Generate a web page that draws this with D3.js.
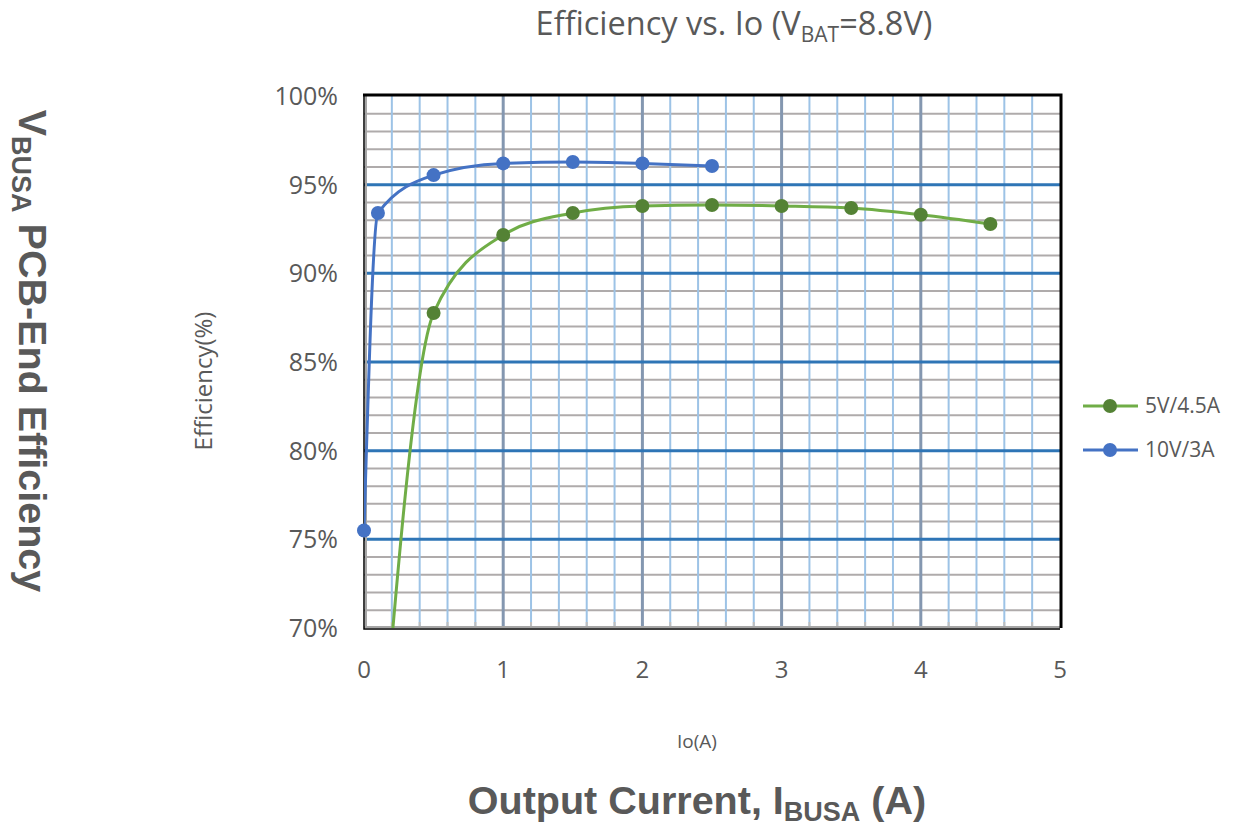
<!DOCTYPE html>
<html>
<head>
<meta charset="utf-8">
<script src="https://cdn.jsdelivr.net/npm/d3@7"></script>
<style>
  body { margin: 0; background: #fff; }
  text { fill: #595959; }
</style>
</head>
<body>
<svg id="chart" width="1252" height="827"></svg>
<script>
// data
const seriesNames = ["5V/4.5A", "10V/3A"]
const greenIo  = [0.1, 0.5, 1, 1.5, 2, 2.5, 3, 3.5, 4, 4.5]
const greenEff = [60, 87.76, 92.16, 93.4, 93.8, 93.85, 93.8, 93.68, 93.3, 92.78]
const blueIo   = [0, 0.1, 0.5, 1, 1.5, 2, 2.5]
const blueEff  = [75.5, 93.4, 95.54, 96.2, 96.28, 96.2, 96.05]
const xTicks = [0, 1, 2, 3, 4, 5]
const yTicks = [70, 75, 80, 85, 90, 95, 100]

const svg = d3.select("#chart")

const x = d3.scaleLinear().domain([0, 5]).range([364, 1060])
const y = d3.scaleLinear().domain([70, 100]).range([628, 96])

const greenData = greenIo.map((d, i) => ({ x: d, y: greenEff[i] }))
const blueData = blueIo.map((d, i) => ({ x: d, y: blueEff[i] }))

svg.append("defs").append("clipPath").attr("id", "plotClip")
  .append("rect")
  .attr("x", x(0)).attr("y", y(100))
  .attr("width", x(5) - x(0)).attr("height", y(70) - y(100))

const grid = svg.append("g")

// horizontal minor lines every 1%
grid.selectAll("line.hmin")
  .data(d3.range(71, 100).filter(v => v % 5 != 0))
  .enter().append("line")
  .attr("x1", x(0)).attr("x2", x(5))
  .attr("y1", d => y(d)).attr("y2", d => y(d))
  .attr("stroke", "#AFABAB").attr("stroke-width", 2)

// vertical minor lines every 0.2
grid.selectAll("line.vmin")
  .data(d3.range(1, 25).filter(i => i % 5 != 0).map(i => i * 0.2))
  .enter().append("line")
  .attr("x1", d => x(d)).attr("x2", d => x(d))
  .attr("y1", y(100)).attr("y2", y(70))
  .attr("stroke", "#9DC3E6").attr("stroke-width", 2)

// minor tick stubs at bottom
grid.selectAll("line.tick")
  .data(d3.range(1, 25).map(i => i * 0.2))
  .enter().append("line")
  .attr("x1", d => x(d)).attr("x2", d => x(d))
  .attr("y1", y(70) - 6).attr("y2", y(70))
  .attr("stroke", "#BFBFBF").attr("stroke-width", 2)

// vertical major lines
grid.selectAll("line.vmaj")
  .data([1, 2, 3, 4])
  .enter().append("line")
  .attr("x1", d => x(d)).attr("x2", d => x(d))
  .attr("y1", y(100)).attr("y2", y(70))
  .attr("stroke", "#8497B0").attr("stroke-width", 3)

// horizontal major lines
grid.selectAll("line.hmaj")
  .data([75, 80, 85, 90, 95])
  .enter().append("line")
  .attr("x1", x(0)).attr("x2", x(5))
  .attr("y1", d => y(d)).attr("y2", d => y(d))
  .attr("stroke", "#2E75B6").attr("stroke-width", 3)

// inner gray axis lines
grid.append("line")
  .attr("x1", x(0) + 2).attr("x2", x(0) + 2).attr("y1", y(100)).attr("y2", y(70))
  .attr("stroke", "#A6A6A6").attr("stroke-width", 2)
grid.append("line")
  .attr("x1", x(0)).attr("x2", x(5)).attr("y1", y(70) - 1).attr("y2", y(70) - 1)
  .attr("stroke", "#A6A6A6").attr("stroke-width", 2)

// frame
grid.append("path")
  .attr("d", `M${x(0)},${y(100)}V${y(70) + 1}H${x(5)}`)
  .attr("fill", "none").attr("stroke", "#000").attr("stroke-width", 1.5)
grid.append("path")
  .attr("d", `M${x(0) - 1},${y(100) - 1}H${x(5) + 1}V${y(70)}`)
  .attr("fill", "none").attr("stroke", "#000").attr("stroke-width", 3)

// series
const line = d3.line()
  .x(d => x(d.x)).y(d => y(d.y))
  .curve(d3.curveMonotoneX)

const plot = svg.append("g").attr("clip-path", "url(#plotClip)")

plot.append("path").datum(greenData)
  .attr("d", line).attr("fill", "none")
  .attr("stroke", "#70AD47").attr("stroke-width", 3)
plot.append("path").datum(blueData)
  .attr("d", line).attr("fill", "none")
  .attr("stroke", "#4472C4").attr("stroke-width", 3)

svg.selectAll("circle.green")
  .data(greenData.filter(d => d.y >= 70))
  .enter().append("circle")
  .attr("cx", d => x(d.x)).attr("cy", d => y(d.y)).attr("r", 7)
  .attr("fill", "#548235")
svg.selectAll("circle.blue")
  .data(blueData)
  .enter().append("circle")
  .attr("cx", d => x(d.x)).attr("cy", d => y(d.y)).attr("r", 7)
  .attr("fill", "#4472C4")

// tick labels
svg.selectAll("text.ytick")
  .data(yTicks)
  .enter().append("text")
  .attr("x", 338).attr("y", d => y(d) + 9)
  .attr("text-anchor", "end")
  .style("font", "25px 'Open Sans', sans-serif")
  .text(d => d + "%")

svg.selectAll("text.xtick")
  .data(xTicks)
  .enter().append("text")
  .attr("x", d => x(d)).attr("y", 678)
  .attr("text-anchor", "middle")
  .style("font", "24px 'Open Sans', sans-serif")
  .text(d => d)

// title
const title = svg.append("text")
  .attr("x", 734).attr("y", 35)
  .attr("text-anchor", "middle")
  .style("font", "32.5px 'Open Sans', sans-serif")
title.append("tspan").text("Efficiency vs. Io (V")
title.append("tspan").attr("dy", 7).style("font-size", "21px").text("BAT")
title.append("tspan").attr("dy", -7).text("=8.8V)")

// small axis titles
svg.append("text")
  .attr("transform", "translate(212,381) rotate(-90)")
  .attr("text-anchor", "middle")
  .style("font", "24px 'Open Sans', sans-serif")
  .text("Efficiency(%)")
svg.append("text")
  .attr("x", 697).attr("y", 748)
  .attr("text-anchor", "middle")
  .style("font", "19px 'Open Sans', sans-serif")
  .text("Io(A)")

// big bold axis labels
const bigY = svg.append("text")
  .attr("transform", "translate(19,351) rotate(90)")
  .attr("text-anchor", "middle")
  .style("font", "bold 39.5px 'Liberation Sans', Arial, sans-serif")
bigY.append("tspan").text("V")
bigY.append("tspan").attr("dy", 7).style("font-size", "27px").text("BUSA")
bigY.append("tspan").attr("dy", -7).text(" PCB-End Efficiency")

const bigX = svg.append("text")
  .attr("x", 697).attr("y", 814)
  .attr("text-anchor", "middle")
  .style("font", "bold 39.5px 'Liberation Sans', Arial, sans-serif")
bigX.append("tspan").text("Output Current, I")
bigX.append("tspan").attr("dy", 7).style("font-size", "27px").text("BUSA")
bigX.append("tspan").attr("dy", -7).text(" (A)")

// legend
const legendColors = [["#70AD47", "#548235"], ["#4472C4", "#4472C4"]]
const legend = svg.selectAll("g.legend")
  .data(seriesNames)
  .enter().append("g")
  .attr("transform", (d, i) => `translate(1083, ${406 + i * 44})`)
legend.append("line")
  .attr("x1", 0).attr("x2", 55)
  .attr("stroke", (d, i) => legendColors[i][0]).attr("stroke-width", 3)
legend.append("circle")
  .attr("cx", 27).attr("r", 7)
  .attr("fill", (d, i) => legendColors[i][1])
legend.append("text")
  .attr("x", 62).attr("y", 7)
  .style("font", "21px 'Open Sans', sans-serif")
  .text(d => d)
</script>
</body>
</html>
